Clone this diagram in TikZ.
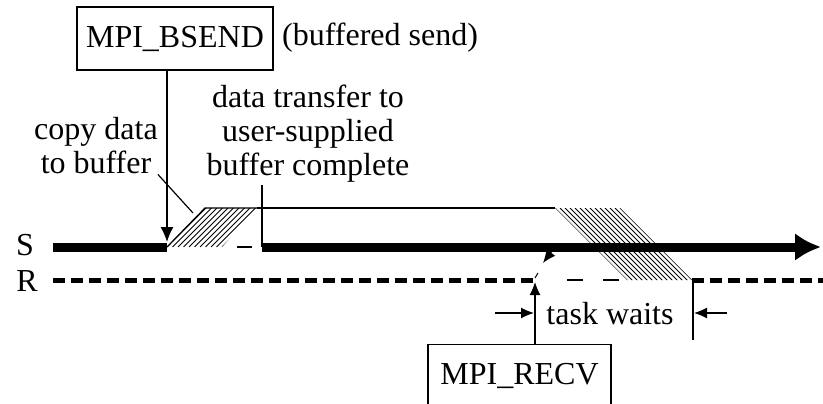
\documentclass[tikz,border=0pt]{standalone}
\usepackage{fontspec}
\setmainfont{Liberation Serif}
\usetikzlibrary{arrows.meta}

\begin{document}
\begin{tikzpicture}[x=1pt, y=-1pt,
    every node/.style={font=\fontsize{32}{34}\selectfont},
    callbox/.style={rectangle, draw, line width=1.2pt, inner sep=0pt},
    thinline/.style={line width=1.2pt},
    sendline/.style={line width=9pt},
    recvline/.style={line width=5pt, dash pattern=on 12pt off 6pt},
    hatch/.style={line width=1pt},
    pointer/.style={thinline, -{Latex[length=13pt,width=11pt]}}
]
\useasboundingbox (0,0) rectangle (823,404);
\clip (0,0) rectangle (823,404);

% Calls and labels
\node[callbox, minimum width=196pt, minimum height=63pt] (bsend) at (175,38.5) {MPI\_BSEND};
\node[anchor=base west, inner sep=0pt] (bufnote) at (282,46) {(buffered send)};
\node[align=center, inner sep=0pt] (copylbl) at (96,146) {copy data\\to buffer};
\node[align=center, inner sep=0pt] (xferlbl) at (308,134) {data transfer to\\user-supplied\\buffer complete};
\node[callbox, minimum width=183pt, minimum height=62pt, anchor=north] (recv) at (519.5,344) {MPI\_RECV};
\node[inner sep=0pt] (waitlbl) at (610,314) {task waits};
\node (slbl) at (25,245) {S};
\node (rlbl) at (27,281) {R};

% Time lines
\coordinate (s0) at (53,247);
\coordinate (s1) at (167,247);
\coordinate (s2) at (262,247);
\coordinate (s3) at (821,247);
\coordinate (r0) at (53,280);
\coordinate (r1) at (533,280);
\coordinate (r2) at (692,280);
\coordinate (r3) at (823,280);

% Copy into buffer
\coordinate (h1bl) at (167,247);
\coordinate (h1br) at (222,247);
\coordinate (h1tr) at (257,208);
\coordinate (h1tl) at (205,208);
\begin{scope}
  \clip (h1bl) -- (h1br) -- (h1tr) -- (h1tl) -- cycle;
  \foreach \x in {167,172.5,...,262}
    \draw[hatch] (\x,247) -- ++(45,-45);
\end{scope}
\draw[thinline] (h1bl) -- (h1tl) -- (h1tr);

% Transfer to receiver
\coordinate (h2tl) at (555,208);
\coordinate (h2tr) at (620,208);
\coordinate (h2br) at (692,280);
\coordinate (h2bl) at (627,280);
\begin{scope}
  \clip (h2tl) -- (h2tr) -- (h2br) -- (h2bl) -- cycle;
  \foreach \x in {555,560,...,630}
    \draw[hatch] (\x,208) -- ++(75,75);
\end{scope}
\draw[thinline] (h1tr) -- (h2tl);

\draw[sendline] (s0) -- (s1);
\draw[sendline, -{Latex[length=26pt,width=28pt]}] (s2) -- (s3);
\draw[thinline] (237,247) -- (252,247);
\draw[recvline] (r0) -- (r1);
\draw[recvline] (r2) -- (r3);
\draw[thinline, dash pattern=on 16pt off 20pt] (567,280) -- (627,280);
\draw[line width=1pt] (535,278) -- (538,273);

% Pointers
\draw[pointer, -{Latex[length=15pt,width=13pt]}] (bsend.south -| s1) -- (167,242);
\draw[thinline] (copylbl.south east) -- (193,213);
\draw[thinline] ([yshift=-2pt]xferlbl.south -| s2) -- (s2);
\draw[pointer] (552,251) -- (543,263);
\coordinate (rw0) at (535,282);
\coordinate (rw1) at (693,280);
\draw[pointer] (recv.north -| rw0) -- (rw0);
\draw[thinline] (rw1) -- (693,340);
\draw[pointer] (495,313) -- (534,313);
\draw[pointer] (727,313) -- (694,313);

\end{tikzpicture}
\end{document}
